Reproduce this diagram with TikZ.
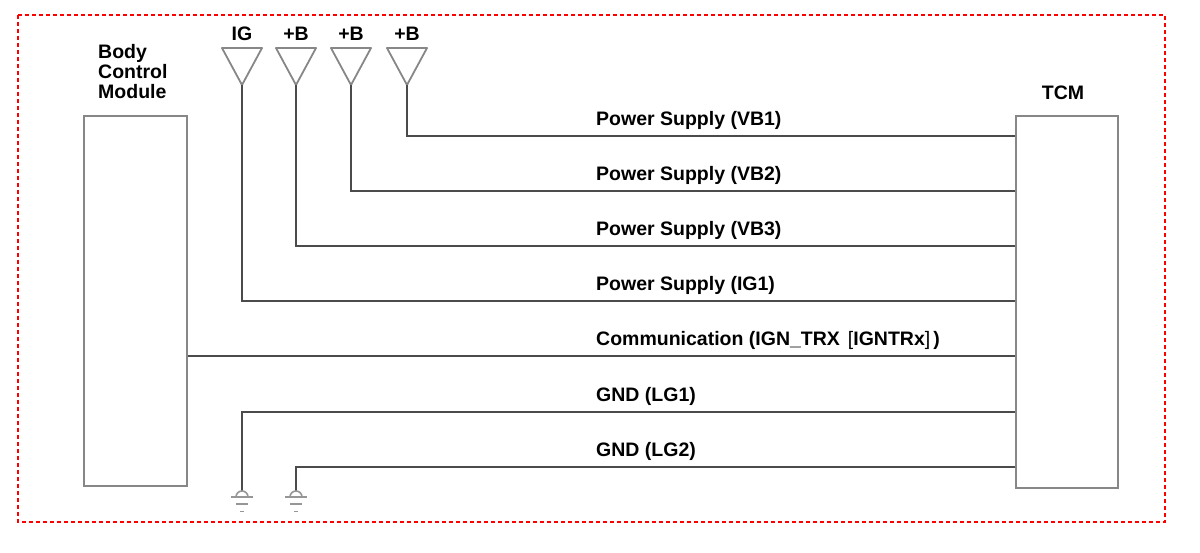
\documentclass[tikz,border=0pt]{standalone}
\usepackage{fontspec}
\setmainfont{Liberation Sans}
\definecolor{wire}{RGB}{75,75,75}
\definecolor{frame}{RGB}{135,135,135}
\definecolor{gndcolor}{RGB}{150,150,150}
\tikzset{
  module/.style = {draw = frame, line width = 1.6, inner sep = 0, anchor = north west},
  wire/.style = {draw = wire, line width = 2.4},
  antenna/.style = {draw = frame, line width = 1.8, line join = round},
  wirelabel/.style = {anchor = base west, inner sep = 0}
}
\begin{document}
\begin{tikzpicture}[x = 1pt, y = -1pt, font = \fontsize{19.5}{20}\selectfont\bfseries]
\useasboundingbox (0,0) rectangle (1200,552);
\draw [color = red, dash pattern = on 4pt off 3pt, line width = 1.2] (18,15) rectangle (1165,522);
\node [module, minimum width = 103, minimum height = 370] (bcm) at (83,115) {};
\node [module, minimum width = 102, minimum height = 372] (tcm) at (1015,115) {};
\node [anchor = north west, align = left, inner sep = 0] (bcmlabel) at (98,44) {Body\\Control\\Module};
\node [anchor = base, inner sep = 0] (tcmlabel) at (1063,99) {TCM};
\foreach \x/\lab [count = \i] in {242/IG, 296/+B, 351/+B, 407/+B} {
  \draw [antenna] (\x-20,48) -- (\x+20,48) -- (\x,85) -- cycle;
  \coordinate (ant\i) at (\x,85);
  \node [anchor = base, inner sep = 0] (supply\i) at (\x,40) {\lab};
}
\foreach \y [count = \i] in {136,191,246,301,356,412,467} \coordinate (pin\i) at (tcm.west |- 0,\y);
\coordinate (gnd1) at (242,491);
\coordinate (gnd2) at (296,491);
\draw [wire] (ant4) |- (pin1);
\draw [wire] (ant3) |- (pin2);
\draw [wire] (ant2) |- (pin3);
\draw [wire] (ant1) |- (pin4);
\draw [wire] (bcm.east |- pin5) -- (pin5);
\draw [wire] (pin6) -| (gnd1);
\draw [wire] (pin7) -| (gnd2);
\foreach \g in {gnd1, gnd2} {
  \draw [draw = gndcolor, line width = 1.6] ([xshift = -6]\g) ++(0,6) arc [start angle = 180, end angle = 360, radius = 6];
  \draw [draw = gndcolor, line width = 1.6] ([xshift = -11]\g) ++(0,6) -- ++(22,0);
  \draw [draw = gndcolor, line width = 1.2] ([xshift = -6]\g) ++(0,13) -- ++(12,0);
  \draw [draw = gndcolor, line width = 1] ([xshift = -2]\g) ++(0,20) -- ++(4,0);
}
\node [wirelabel] (vb1) at (596,125) {Power Supply (VB1)};
\node [wirelabel] (vb2) at (596,180) {Power Supply (VB2)};
\node [wirelabel] (vb3) at (596,235) {Power Supply (VB3)};
\node [wirelabel] (ig1) at (596,290) {Power Supply (IG1)};
\node [wirelabel] (comm) at (596,345) {Communication (IGN\_TRX\hspace{8pt}{\mdseries[}IGNTRx{\mdseries]}\hspace{3pt})};
\node [wirelabel] (lg1) at (596,401) {GND (LG1)};
\node [wirelabel] (lg2) at (596,456) {GND (LG2)};
\end{tikzpicture}
\end{document}
